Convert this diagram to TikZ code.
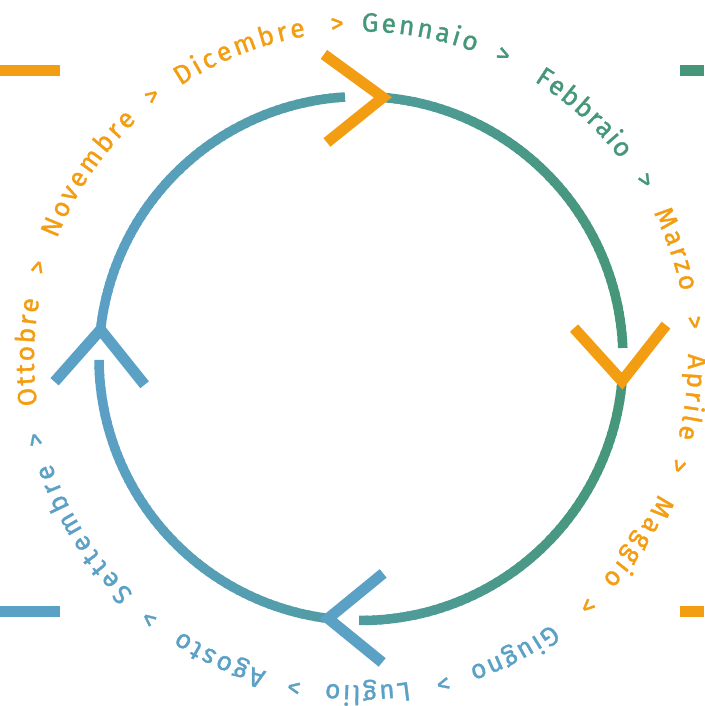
\documentclass[tikz,border=0pt]{standalone}
\usepackage{fontspec}
\setmainfont{Fira Sans}
\newfontfamily\monthfamily{Fira Sans}[FakeBold=1.2]
\usetikzlibrary{decorations.text}
\definecolor{corange}{RGB}{243,157,18}
\definecolor{cgreen}{RGB}{70,151,121}
\definecolor{cblue}{RGB}{91,160,197}
\newcommand\mfont{\monthfamily\fontsize{26.5pt}{30pt}\selectfont}
\newcommand\monthword[4]{%
  \path[decorate,decoration={text along path,text align={fit to path},
    text={|\mfont\color{#3}|#4}}]
    (#1:327pt) arc[start angle=#1,end angle=#2,radius=327pt];}
\begin{document}
\begin{tikzpicture}[
  ringseg/.style={line width=9.5pt},
  chev/.style={line width=11pt,line join=miter,miter limit=10,draw=corange},
  sepmark/.style={inner sep=0pt,anchor=base,font=\mfont},
]
\useasboundingbox (-361pt,-347.5pt) rectangle (343pt,358.5pt);

% corner bars
\fill[corange] (-361pt,282.5pt) rectangle (-301pt,293.5pt);
\fill[cgreen] (319pt,282.5pt) rectangle (343pt,293.5pt);
\fill[cblue] (-361pt,-258.5pt) rectangle (-301pt,-247.5pt);
\fill[corange] (319pt,-258.5pt) rectangle (343pt,-247.5pt);

% ring with horizontal colour gradient
\foreach \s/\e in {85.2/2.3,-4.95/-90.4,-97.2/-179.7,173.7/93.5} {
  \pgfmathtruncatemacro{\nseg}{ceil((\s-\e)/1.5)}
  \pgfmathsetmacro{\dd}{(\s-\e)/\nseg}
  \foreach \k in {1,...,\nseg} {
    \pgfmathsetmacro{\angA}{\s-(\k-1)*\dd+ifthenelse(\k>1,0.5,0)}
    \pgfmathsetmacro{\angB}{\s-\k*\dd}
    \pgfmathtruncatemacro{\mix}{round(50+50*cos((\angA+\angB)/2))}
    \draw[ringseg,draw=cgreen!\mix!cblue] (\angA:262pt) arc[start angle=\angA,end angle=\angB,radius=262pt];
  }
}

% chevrons
\coordinate (tipT) at (85.2:262pt);
\coordinate (tipR) at (-4.95:262pt);
\coordinate (tipB) at (-97.2:262pt);
\coordinate (tipL) at (173.7:262pt);
\draw[chev] (tipT) ++(-59pt,43pt) -- (tipT) -- ++(-56pt,-45pt);
\draw[chev] (tipR) ++(-48pt,53pt) -- (tipR) -- ++(44pt,56pt);
\draw[chev,draw=cblue] (tipB) ++(55pt,45pt) -- (tipB) -- ++(54pt,-44pt);
\draw[chev,draw=cblue] (tipL) ++(-46pt,-52pt) -- (tipL) -- ++(44pt,-55pt);

% month names
\monthword{123.5}{99.7}{corange}{Dicembre}
\monthword{89.9}{69.6}{cgreen}{Gennaio}
\monthword{58.0}{37.5}{cgreen}{Febbraio}
\monthword{26.5}{11.8}{corange}{Marzo}
\monthword{0.8}{-14.1}{corange}{Aprile}
\monthword{-24.5}{-42.5}{corange}{Maggio}
\monthword{-54.3}{-70.7}{cblue}{Giugno}
\monthword{-81.5}{-96.2}{cblue}{Luglio}
\monthword{-106.8}{-123.5}{cblue}{Agosto}
\monthword{-134.1}{-161.3}{cblue}{Settembre}
\monthword{-171.8}{-190.4}{corange}{Ottobre}
\monthword{-201.5}{-226.7}{corange}{Novembre}

% separators
\foreach \t/\c [count=\i] in {128.5/corange,94.1/corange,64.9/cgreen,32.1/cgreen,6.2/corange,-18.7/corange,-47.5/corange,-75.8/cblue,-101.5/cblue,-129.1/cblue,-166.0/cblue,164.2/corange}
  \node[sepmark,text=\c,rotate=\t-90] (sep\i) at (\t:327pt) {>};
\end{tikzpicture}
\end{document}
